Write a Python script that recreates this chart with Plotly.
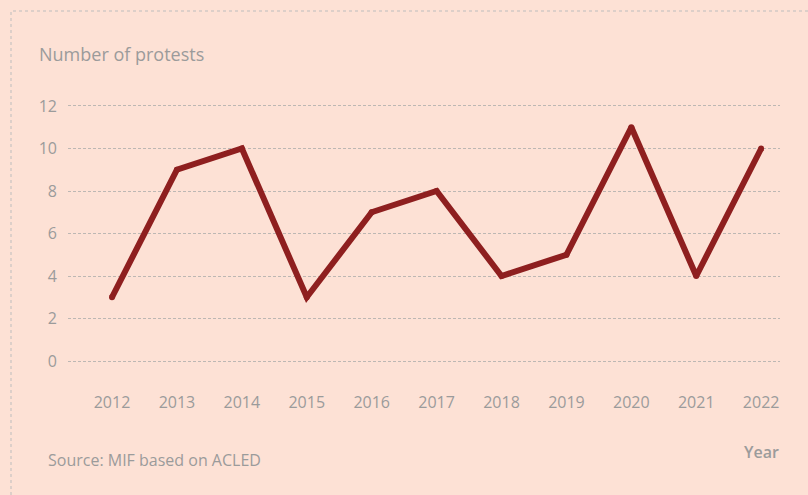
import plotly.graph_objects as go

years = ["2012", "2013", "2014", "2015", "2016", "2017", "2018", "2019", "2020", "2021", "2022"]
protests = [3, 9, 10, 3, 7, 8, 4, 5, 11, 4, 10]
y_ticks = [0, 2, 4, 6, 8, 10, 12]

BG = "#fde1d5"
TXT = "#9b9b9b"
FONT = "Open Sans"
LINE = "#8e1f1f"

W, H = 808, 495
L, R, T, B = 68, 28, 100, 128
pw, ph = W - L - R, H - T - B

def px_to_paper_x(px):
    return (px - L) / pw

def px_to_paper_y(py):
    return (H - B - py) / ph

fig = go.Figure()
fig.add_trace(go.Scatter(
    x=years, y=protests, mode="lines+markers",
    line=dict(color=LINE, width=6),
    marker=dict(color=LINE, size=6, line=dict(width=0)),
    hoverinfo="skip",
))

fig.update_layout(
    width=W, height=H,
    margin=dict(l=L, r=R, t=T, b=B),
    paper_bgcolor=BG, plot_bgcolor=BG,
    showlegend=False,
    font=dict(family=FONT, color=TXT, size=15),
    xaxis=dict(
        type="category", range=[-0.678, 10.29],
        showgrid=False, zeroline=False, showline=False,
        ticks="", ticklabelstandoff=24,
        tickfont=dict(size=16, color=TXT, family=FONT),
    ),
    yaxis=dict(
        range=[-0.282, 12.282], tickvals=y_ticks,
        showgrid=True, gridcolor="#bdb7b3", griddash="3px,2px", gridwidth=1,
        zeroline=False, showline=False, ticks="",
        ticklabelstandoff=10,
        tickfont=dict(size=16, color=TXT, family=FONT),
    ),
    annotations=[
        dict(text="Number of protests", xref="paper", yref="paper",
             x=px_to_paper_x(37), y=px_to_paper_y(54), xanchor="left", yanchor="middle",
             showarrow=False, font=dict(size=18, color=TXT, family=FONT)),
        dict(text="Year", xref="paper", yref="paper",
             x=px_to_paper_x(781), y=px_to_paper_y(452), xanchor="right", yanchor="middle",
             showarrow=False, font=dict(size=16, color=TXT, family=FONT, weight=600)),
        dict(text="Source: MIF based on ACLED", xref="paper", yref="paper",
             x=px_to_paper_x(46), y=px_to_paper_y(460), xanchor="left", yanchor="middle",
             showarrow=False, font=dict(size=16, color=TXT, family=FONT)),
    ],
    shapes=[
        dict(type="rect", xref="paper", yref="paper",
             x0=px_to_paper_x(11), x1=px_to_paper_x(830),
             y0=px_to_paper_y(520), y1=px_to_paper_y(11),
             line=dict(color="#bdbdbd", width=1, dash="3px,3px"), layer="below"),
    ],
)

fig.write_html("out.html", config={"displayModeBar": False},
               post_script="document.body.style.margin='0px';document.body.style.overflow='hidden';")
